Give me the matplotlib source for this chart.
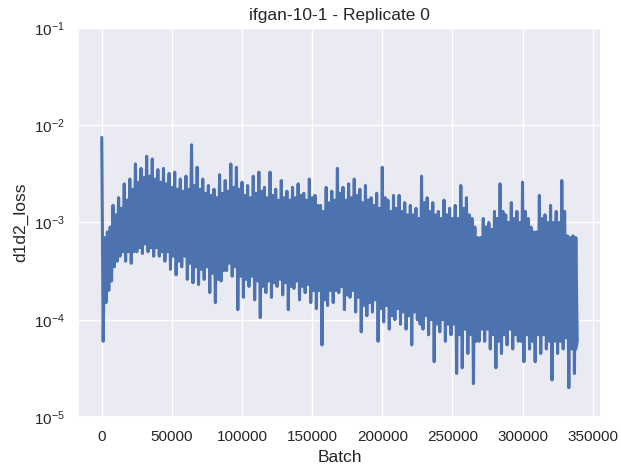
"""plot.py
d1d2 loss trace for one replicate, log scale
"""
import numpy as np
import matplotlib
matplotlib.use("Agg")
import matplotlib.pyplot as plt
import seaborn as sns

###########
## DATA  ##
###########
title = "ifgan-10-1 - Replicate 0"
step = 4000          # batches per block of four logged values
last_batch = 338000
last_value = 5e-5

# spike peaks (logged at 0, 4000, 8000, ...)
loss_hi = [7.5e-3, 8e-4, 1.5e-3, 1.8e-3, 2.5e-3, 2.8e-3, 4e-3, 3.6e-3, 4.8e-3, 4.5e-3,
           3.5e-3, 3.6e-3, 3.2e-3, 3.3e-3, 2.8e-3, 3e-3, 6.3e-3, 3.7e-3, 2.8e-3, 2.4e-3,
           2.2e-3, 3.1e-3, 2.7e-3, 4e-3, 3.7e-3, 2.6e-3, 2.4e-3, 3e-3, 3.3e-3, 2.3e-3,
           3.3e-3, 2.2e-3, 2.7e-3, 2.1e-3, 2.3e-3, 2.5e-3, 2e-3, 2.8e-3, 1.9e-3, 1.5e-3,
           2.3e-3, 2.1e-3, 3.6e-3, 2.3e-3, 2.5e-3, 2.8e-3, 2.2e-3, 2.4e-3, 1.8e-3, 2e-3,
           3.7e-3, 1.7e-3, 1.9e-3, 1.9e-3, 1.6e-3, 1.5e-3, 1.4e-3, 3e-3, 1.8e-3, 1.6e-3,
           1.3e-3, 1.7e-3, 1.4e-3, 1.5e-3, 2.4e-3, 1.8e-3, 1.1e-3, 7e-4, 1.1e-3, 1e-3,
           1.3e-3, 2.5e-3, 1.2e-3, 1.6e-3, 1.3e-3, 2.6e-3, 1.1e-3, 8e-4, 1.9e-3, 1.2e-3,
           1.5e-3, 1.3e-3, 2.7e-3, 7.3e-4, 7.3e-4]

# spike troughs (logged at +1000)
loss_lo = [6e-5, 2e-4, 3.5e-4, 4.5e-4, 4e-4, 3.8e-4, 5e-4, 4.8e-4, 5e-4, 4.5e-4,
           4.5e-4, 4e-4, 3.3e-4, 2.9e-4, 3.5e-4, 2.6e-4, 2.4e-4, 2.3e-4, 2.6e-4, 1.9e-4,
           1.5e-4, 2.5e-4, 3.2e-4, 2.8e-4, 1.27e-4, 1.7e-4, 2.2e-4, 1.6e-4, 1.05e-4, 1.9e-4,
           1.7e-4, 2.2e-4, 1.8e-4, 1.27e-4, 2.1e-4, 1.6e-4, 1.9e-4, 1.5e-4, 1.3e-4, 5.5e-5,
           1.4e-4, 1.5e-4, 1.9e-4, 1.27e-4, 1.7e-4, 1.2e-4, 7.5e-5, 1.1e-4, 1.2e-4, 6e-5,
           9.5e-5, 8e-5, 1e-4, 9e-5, 8e-5, 5.5e-5, 1e-4, 8e-5, 7e-5, 3.7e-5,
           7.5e-5, 6e-5, 7e-5, 2.8e-5, 3.2e-5, 4.5e-5, 2.2e-5, 6e-5, 6e-5, 5e-5,
           3.2e-5, 4.5e-5, 5.5e-5, 5e-5, 6e-5, 3.7e-5, 5e-5, 3.7e-5, 4.5e-5, 5e-5,
           2.4e-5, 4.5e-5, 5e-5, 2e-5, 2.8e-5]

# typical upper values (logged at +2000)
band_hi = [7e-4, 9e-4, 1.2e-3, 1.4e-3, 1.7e-3,
           2.2e-3, 2.6e-3, 2.9e-3, 3e-3, 2.8e-3, 2.6e-3, 2.5e-3,
           2.3e-3, 2.2e-3, 2.1e-3, 2.2e-3, 2.4e-3, 2.2e-3, 2e-3, 1.9e-3, 1.8e-3, 2e-3,
           2.1e-3, 2.3e-3, 2.2e-3,
           1.9e-3, 1.8e-3, 2e-3, 2.1e-3, 1.8e-3, 1.9e-3, 1.7e-3, 1.8e-3, 1.7e-3, 1.8e-3,
           1.9e-3, 1.7e-3, 1.8e-3, 1.5e-3, 1.3e-3, 1.6e-3, 1.7e-3, 2e-3,
           1.7e-3, 1.8e-3, 1.9e-3, 1.6e-3, 1.7e-3, 1.5e-3, 1.4e-3, 1.8e-3, 1.3e-3, 1.4e-3,
           1.3e-3, 1.2e-3, 1.2e-3, 1.1e-3, 1.6e-3, 1.3e-3, 1.2e-3, 1.1e-3, 1.2e-3, 1.1e-3,
           1.1e-3, 1.4e-3, 1.2e-3,
           9e-4, 7e-4, 9e-4, 8.5e-4, 1.1e-3, 1.3e-3, 1e-3, 1.1e-3, 1e-3, 1.3e-3,
           9e-4, 8e-4, 1.1e-3, 1e-3, 1e-3, 1e-3, 1.3e-3, 7e-4, 7e-4]

# typical lower values (logged at +3000)
band_lo = [1.5e-4, 2.5e-4, 4e-4, 5e-4, 5e-4,
           5e-4, 5.5e-4, 6e-4, 5.5e-4, 5.5e-4, 5e-4, 5e-4,
           4.5e-4, 4e-4, 4.5e-4, 3.8e-4, 3.5e-4, 3.3e-4, 3.5e-4, 3e-4, 2.6e-4, 3.2e-4,
           3.8e-4, 3.5e-4, 2.8e-4,
           2.6e-4, 2.8e-4, 2.5e-4, 2.2e-4, 2.5e-4, 2.4e-4, 2.6e-4, 2.4e-4, 2.2e-4, 2.5e-4,
           2.2e-4, 2.3e-4, 2e-4, 2e-4, 1.6e-4, 2e-4, 2e-4, 2.2e-4,
           1.8e-4, 2e-4, 1.7e-4, 1.4e-4, 1.5e-4, 1.6e-4, 1.3e-4, 1.4e-4, 1.1e-4, 1.3e-4,
           1.2e-4, 1.1e-4, 1.2e-4, 9e-5, 1.1e-4, 1e-4, 9e-5, 1e-4, 9e-5, 9e-5,
           7e-5, 8e-5, 7e-5,
           6e-5, 8e-5, 8e-5, 7e-5, 6e-5, 7e-5, 8e-5, 7e-5, 6e-5, 7e-5,
           6e-5, 7e-5, 7e-5, 6e-5, 6e-5, 6e-5, 6.5e-5, 5e-5, 6e-5]

# interleave the four series into one trace
n = len(loss_hi)
batch = np.empty(4 * n + 1)
loss = np.empty(4 * n + 1)
for k, series in enumerate([loss_hi, loss_lo, band_hi, band_lo]):
    batch[k:-1:4] = np.arange(n) * step + k * step / 4
    loss[k:-1:4] = series
batch[-1] = last_batch
loss[-1] = last_value

###########
## PLOT  ##
###########
sns.set_theme(style="darkgrid")
plt.rcParams['font.family'] = ['Liberation Sans', 'DejaVu Sans']

fig = plt.figure(figsize=(6.21, 4.73), dpi=100)
ax = fig.add_axes([0.1256, 0.1184, 0.8422, 0.8224])
ax.plot(batch, loss, color="#4c72b0", lw=2.2)
ax.set_yscale("log")
ax.set_ylim(1e-5, 1e-1)
ax.set_xticks([0, 50000, 100000, 150000, 200000, 250000, 300000, 350000])
ax.set_xlabel("Batch", fontsize=12.5)
ax.set_ylabel("d1d2_loss", fontsize=12.5)
ax.set_title(title, fontsize=12.5)
fig.savefig("out.png", dpi=100)
